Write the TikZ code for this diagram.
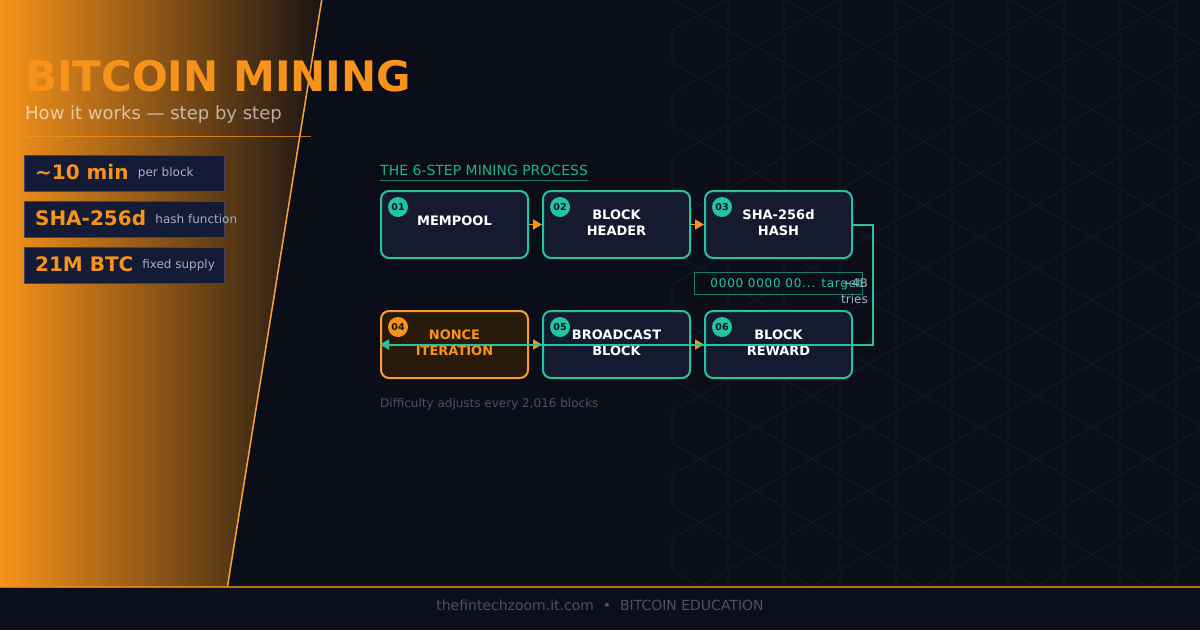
\documentclass[tikz,border=0pt]{standalone}
\usepackage{fontspec}
\setmainfont{DejaVu Sans}
\newfontfamily\spacedfont{DejaVu Sans}[LetterSpace=6.5]
\usetikzlibrary{positioning, arrows.meta, calc}

\definecolor{pagebg}{HTML}{0B0E19}
\definecolor{footbg}{HTML}{0C0F1B}
\definecolor{btc}{HTML}{F7931A}
\definecolor{panelend}{HTML}{1A1414}
\definecolor{mint}{HTML}{24C49F}
\definecolor{cardbg}{HTML}{151A2E}
\definecolor{statbg}{HTML}{141B37}
\definecolor{statrule}{HTML}{3E4562}
\definecolor{noncebg}{HTML}{2A1A0C}
\definecolor{hexgrid}{HTML}{191D2D}
\definecolor{inkdark}{HTML}{0D1620}
\definecolor{softgray}{HTML}{AAB0C0}
\definecolor{dimgray}{HTML}{4B5164}

\newcommand{\fs}[2]{\fontsize{#1}{#2}\selectfont}

\begin{document}
\begin{tikzpicture}[
    x=1pt,y=-1pt,
    stepbox/.style={draw=mint, line width=2pt, fill=cardbg, rounded corners=8pt, minimum width=147pt, minimum height=67pt, inner sep=0pt},
    noncebox/.style={stepbox, draw=btc!90!white, fill=noncebg},
    badge/.style={circle, fill=mint, minimum size=20pt, inner sep=0pt, text=inkdark, font=\fs{9.5}{11}\bfseries},
    steplabel/.style={align=center, inner sep=0pt, text=white, font=\fs{13}{16.7}\bfseries},
    flow/.style={draw=btc, line width=1.5pt, -{Triangle[length=9pt,width=10pt]}},
    loopback/.style={draw=mint, line width=2pt, -{Triangle[length=9pt,width=10pt]}},
    statbox/.style={draw=statrule, line width=0.8pt, fill=statbg, minimum width=200pt, minimum height=35.5pt, inner sep=0pt},
    statvalue/.style={inner sep=0pt, text=btc, font=\fs{20}{24}\bfseries},
    statnote/.style={inner sep=0pt, text=softgray, font=\fs{12}{14}},
    smallnote/.style={inner sep=0pt, text=dimgray, font=\fs{12}{14}}
]
    \useasboundingbox (0,0) rectangle (1200,630);

    % --- Background ---
    \fill[pagebg] (0,0) rectangle (1200,630);

    % --- Hex grid ---
    \begin{scope}
        \clip (0,0) rectangle (1200,587);
        \foreach \i in {0,...,9} {
            \foreach \j in {-1,...,9} {
                \pgfmathsetmacro\cx{700+56*\i}
                \pgfmathsetmacro\cy{46.25+31.75*mod(\i,2)+63.5*\j}
                \draw[hexgrid, line width=0.6pt] (\cx-28,\cy-15.875) -- (\cx,\cy-31.75) -- (\cx+28,\cy-15.875)
                    -- (\cx+28,\cy+15.875) -- (\cx,\cy+31.75) -- (\cx-28,\cy+15.875) -- cycle;
            }
        }
    \end{scope}

    % --- Left panel ---
    \begin{scope}
        \clip (0,0) -- (321.7,0) -- (227.4,587) -- (0,587) -- cycle;
        \shade[left color=btc, right color=panelend] (0,0) rectangle (322,587);
    \end{scope}
    \draw[btc!85!white, line width=1.5pt] (321.7,0) -- (227.4,587);

    % --- Title ---
    \node[inner sep=0pt, text=btc, font=\fs{42}{50}\bfseries, anchor=base west] (title) at (25,91) {BITCOIN MINING};
    \node[inner sep=0pt, text=white, text opacity=0.62, font=\fs{18}{22}, anchor=base west] (subtitle) at (25,119) {How it works — step by step};
    \draw[btc, opacity=0.75, line width=0.8pt] (25,136) -- (311,136);

    % --- Stats ---
    \node[statbox] (st1) at (124.3,173.3) {};
    \node[statbox] (st2) at (124.3,219.5) {};
    \node[statbox] (st3) at (124.3,265.3) {};

    \node[statvalue, anchor=base west] (st1v) at ($(st1.west)+(11,6.6)$) {\textasciitilde10 min};
    \node[statvalue, anchor=base west] (st2v) at ($(st2.west)+(11,6.4)$) {SHA-256d};
    \node[statvalue, anchor=base west] (st3v) at ($(st3.west)+(11,6.6)$) {21M BTC};

    \node[statnote, anchor=base west] at ($(st1v.base east)+(9,-3)$) {per block};
    \node[statnote, anchor=base west] at ($(st2v.base east)+(9,-2.5)$) {hash function};
    \node[statnote, anchor=base west] at ($(st3v.base east)+(8.5,-3)$) {fixed supply};

    % --- Section header ---
    \node[inner sep=0pt, text=mint!90!black, font=\fs{14}{17}, anchor=base west] (hdr) at (380,175.7) {THE 6-STEP MINING PROCESS};
    \draw[mint, opacity=0.6, line width=1pt] ($(hdr.base west)+(0,5)$) -- ($(hdr.base east)+(0,5)$);

    % --- Steps ---
    \node[stepbox] (s1) at (454.5,224.5) {};
    \node[stepbox] (s2) at (616.5,224.5) {};
    \node[stepbox] (s3) at (778.5,224.5) {};
    \node[noncebox] (s4) at (454.5,344.5) {};
    \node[stepbox] (s5) at (616.5,344.5) {};
    \node[stepbox] (s6) at (778.5,344.5) {};

    \node[steplabel, anchor=base] at ($(s1.north)+(0,35)$) {MEMPOOL};
    \node[steplabel, anchor=base] at ($(s2.north)+(0,45.7)$) {BLOCK\\HEADER};
    \node[steplabel, anchor=base] at ($(s3.north)+(0,45.7)$) {SHA-256d\\HASH};
    \node[steplabel, anchor=base, text=btc] at ($(s4.north)+(0,45.7)$) {NONCE\\ITERATION};
    \node[steplabel, anchor=base] at ($(s5.north)+(0,45.7)$) {BROADCAST\\BLOCK};
    \node[steplabel, anchor=base] at ($(s6.north)+(0,45.7)$) {BLOCK\\REWARD};

    \node[badge] (b1) at ($(s1.north west)+(18,17)$) {01};
    \node[badge] (b2) at ($(s2.north west)+(18,17)$) {02};
    \node[badge] (b3) at ($(s3.north west)+(18,17)$) {03};
    \node[badge, fill=btc] (b4) at ($(s4.north west)+(18,17)$) {04};
    \node[badge] (b5) at ($(s5.north west)+(18,17)$) {05};
    \node[badge] (b6) at ($(s6.north west)+(18,17)$) {06};

    % --- Flow ---
    \draw[flow] (s1) -- (s2);
    \draw[flow] (s2) -- (s3);
    \draw[flow] (s4) -- (s5);
    \draw[flow] (s5) -- (s6);
    \draw[loopback] (s3.east) -- ++(20,0) |- (s4.west);

    % --- Target ---
    \node[draw=mint, draw opacity=0.6, line width=1pt, minimum width=168.5pt, minimum height=21.5pt, inner sep=0pt] (tgt) at (778.5,283.5) {};
    \node[inner sep=0pt, text=mint, font=\spacedfont\fs{12}{14}, anchor=base west] (tgttext) at ($(tgt.west)+(16.5,4.2)$) {0000 0000 00... target};
    \node[inner sep=0pt, align=right, text=softgray, font=\fs{12}{15.6}, anchor=base east] (tries) at (868,303.3) {\textasciitilde4B\\tries};

    % --- Note ---
    \node[smallnote, anchor=base west] (diff) at (380,407.7) {Difficulty adjusts every 2,016 blocks};

    % --- Footer ---
    \fill[footbg] (0,587) rectangle (1200,630);
    \draw[btc, opacity=0.75, line width=1.2pt] (0,587) -- (1200,587);
    \node[inner sep=0pt, text=dimgray, font=\fs{14}{17}, anchor=base] (foot) at (600,610.7) {thefintechzoom.it.com \ • \ BITCOIN EDUCATION};

\end{tikzpicture}
\end{document}
